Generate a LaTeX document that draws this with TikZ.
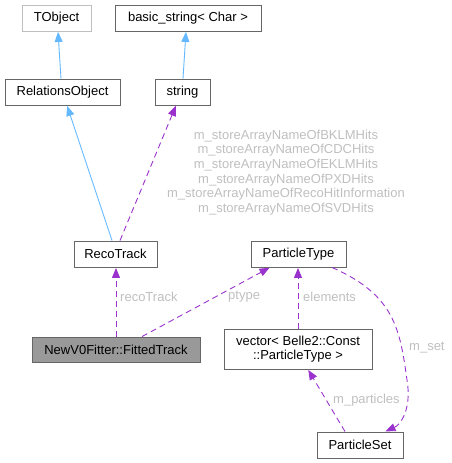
\documentclass[tikz,border=0pt]{standalone}
\usepackage{fontspec}
\setmainfont{Liberation Sans}
\usetikzlibrary{arrows.meta}
\definecolor{inherit}{HTML}{63B8FF}
\definecolor{usage}{HTML}{9A32CD}
\definecolor{edgelabel}{HTML}{BFBFBF}
\definecolor{boxline}{HTML}{666666}
\begin{document}
\begin{tikzpicture}[x=1pt,y=-1pt,
  classbox/.style={draw=boxline,fill=white,line width=0.9pt,inner sep=0pt,minimum height=26,font=\fontsize{13}{14.6}\selectfont},
  inh/.style={draw=inherit,line width=0.9pt,-{Triangle[length=10pt,width=8pt]},shorten >=0.5pt},
  use/.style={draw=usage,line width=0.9pt,dashed,dash pattern=on 6pt off 4pt,-{Triangle[length=10pt,width=8pt]},shorten >=0.5pt},
  lbl/.style={text=edgelabel,font=\fontsize{13}{14.6}\selectfont,inner sep=0pt}]

\useasboundingbox (0,0) rectangle (452,463);

\node[classbox,draw=edgelabel,minimum width=69] (tobject) at (56.5,18) {TObject};
\node[classbox,minimum width=146] (basicstring) at (188,18) {basic\_string< Char >};
\node[classbox,minimum width=115] (relobj) at (62.5,92) {RelationsObject};
\node[classbox,minimum width=55] (string) at (182.5,92) {string};

\node[classbox,minimum width=83] (recotrack) at (115.5,254) {RecoTrack};
\node[classbox,minimum width=95] (ptype) at (298.5,254) {ParticleType};
\node[classbox,fill=white!60!black,minimum width=168,minimum height=25] (fitted) at (116,349.5) {NewV0Fitter::FittedTrack};
\node[classbox,minimum width=148,minimum height=40,align=center] (vector) at (298,349) {vector< Belle2::Const\\::ParticleType >};
\node[classbox,minimum width=86] (pset) at (360,445) {ParticleSet};

%inheritance
\draw[inh] ([xshift=-1.5]relobj.north) -- ([xshift=1.5]tobject.south);
\draw[inh] ([xshift=0.5]string.north) -- ([xshift=-2]basicstring.south);
\draw[inh] ([xshift=-3.5]recotrack.north) -- ([xshift=4.5]relobj.south);

%members
\draw[use] ([xshift=4.5]recotrack.north) -- ([xshift=-6.5]string.south);
\node[lbl,align=center] (hits) at (286,172.5) {m\_storeArrayNameOfBKLMHits\\m\_storeArrayNameOfCDCHits\\m\_storeArrayNameOfEKLMHits\\m\_storeArrayNameOfPXDHits\\m\_storeArrayNameOfRecoHitInformation\\m\_storeArrayNameOfSVDHits};

\draw[use] (fitted.north) -- ([xshift=0.5]recotrack.south);
\node[lbl,anchor=west] (lreco) at (120,297) {recoTrack};
\draw[use] ([xshift=26]fitted.north) -- ([xshift=-28.5]ptype.south);
\node[lbl,anchor=west] (lptype) at (228,297) {ptype};
\draw[use] (vector.north) -- ([xshift=-0.5]ptype.south);
\node[lbl,anchor=west] (lelem) at (303,297) {elements};
\draw[use] ([xshift=33.5]ptype.south) .. controls (395,295) and (400,330) .. (407,380) .. controls (412,410) and (400,425) .. ([xshift=25]pset.north);
\node[lbl,anchor=west] (lset) at (409,348) {m\_set};
\draw[use] ([xshift=-15]pset.north) -- ([xshift=10]vector.south);
\node[lbl,anchor=west] (lpart) at (333,400) {m\_particles};
\end{tikzpicture}
\end{document}
